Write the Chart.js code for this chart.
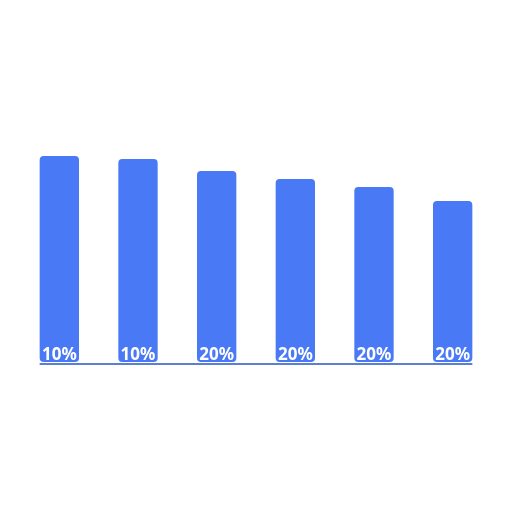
<!DOCTYPE html>
<html>
<head>
<meta charset="utf-8">
<script src="https://cdn.jsdelivr.net/npm/chart.js@4/dist/chart.umd.min.js"></script>
<style>
  html, body { margin: 0; padding: 0; background: #fff; }
  #wrap { width: 512px; height: 512px; }
</style>
</head>
<body>
<div id="wrap"><canvas id="c" width="512" height="512"></canvas></div>
<script>
// datos del grafico
const categorias = ["A", "B", "C", "D", "E", "F"];
const valores = [82.4, 81.2, 76.4, 73.2, 70, 64.4];
const etiquetas = ["10%", "10%", "20%", "20%", "20%", "20%"];

// etiquetas blancas al pie de cada barra + linea base
const pluginEtiquetas = {
  id: "etiquetas",
  afterDatasetsDraw(chart) {
    const ctx = chart.ctx;
    const meta = chart.getDatasetMeta(0);
    const primero = meta.data[0];
    const ultimo = meta.data[meta.data.length - 1];
    const base = primero.base;

    ctx.save();
    ctx.strokeStyle = "#5d7fd2";
    ctx.lineWidth = 2;
    ctx.beginPath();
    ctx.moveTo(primero.x - primero.width / 2, base + 2);
    ctx.lineTo(ultimo.x + ultimo.width / 2, base + 2);
    ctx.stroke();

    ctx.fillStyle = "#ffffff";
    ctx.font = "bold 17px 'Noto Sans'";
    ctx.textAlign = "center";
    ctx.textBaseline = "alphabetic";
    meta.data.forEach((bar, i) => {
      ctx.fillText(etiquetas[i], bar.x, base - 2);
    });
    ctx.restore();
  }
};

let cfg = {
  type: "bar",
  data: {
    labels: categorias,
    datasets: [{
      data: valores,
      backgroundColor: "#4a79f5",
      borderRadius: 4,
      borderSkipped: false,
      barPercentage: 0.5,
      categoryPercentage: 1
    }]
  },
  options: {
    responsive: false,
    animation: false,
    layout: { padding: { top: 112, bottom: 150, left: 20, right: 20 } },
    plugins: { legend: { display: false }, tooltip: { enabled: false } },
    scales: {
      x: { display: false },
      y: { display: false, min: 0, max: 100 }
    }
  },
  plugins: [pluginEtiquetas]
};

let draw = new Chart(document.getElementById("c"), cfg);
</script>
</body>
</html>
